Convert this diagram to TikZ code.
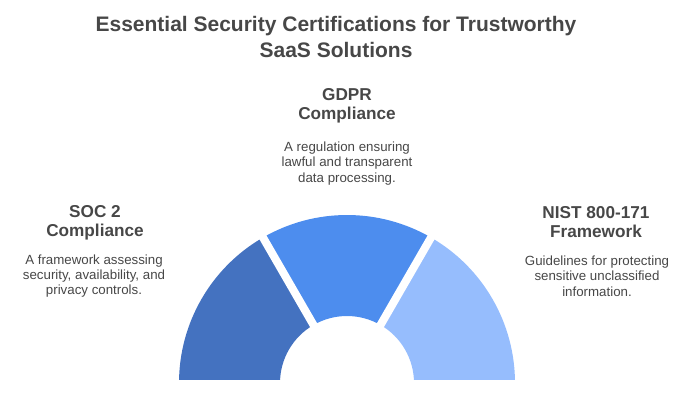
\documentclass[tikz,border=0pt]{standalone}
\usepackage{fontspec}
\setmainfont{Liberation Sans}
\usepackage{tikz}

\definecolor{socblue}{HTML}{4472C0}
\definecolor{gdprblue}{HTML}{4D8DEE}
\definecolor{nistblue}{HTML}{96BDFD}
\definecolor{ink}{HTML}{474747}

\begin{document}
\begin{tikzpicture}[x=1pt, y=1pt]
	\tikzstyle{every node} = [text=ink, align=center, inner sep=0pt]
	\tikzstyle{heading} = [font=\bfseries\fontsize{17.2}{19}\selectfont]
	\tikzstyle{blurb} = [font=\fontsize{13.3}{15.3}\selectfont]
	\tikzstyle{gap} = [white, line width=8pt]
	\useasboundingbox (0,0) rectangle (700,400);
	\node[font=\bfseries\fontsize{21}{25.5}\selectfont] (title) at (336, 363) {Essential Security Certifications for Trustworthy\\SaaS Solutions};
	% half ring, cut flat at the base
	\begin{scope}
		\clip (0,21) rectangle (700,400);
		\begin{scope}[shift={(347, 17)}]
			\fill[socblue] (180:168) arc (180:120:168) -- (120:67) arc (120:180:67) -- cycle;
			\fill[gdprblue] (120:168) arc (120:60:168) -- (60:67) arc (60:120:67) -- cycle;
			\fill[nistblue] (60:168) arc (60:0:168) -- (0:67) arc (0:60:67) -- cycle;
			\draw[gap] (0,0) -- (120:175);
			\draw[gap] (0,0) -- (60:175);
		\end{scope}
	\end{scope}
	\node[heading] (soc) at (95, 177.7) {SOC 2\\Compliance};
	\node[blurb] (socdesc) at (94, 124) {A framework assessing\\security, availability, and\\privacy controls.};
	\node[heading] (gdpr) at (347, 294.2) {GDPR\\Compliance};
	\node[blurb] (gdprdesc) at (347, 236.5) {A regulation ensuring\\lawful and transparent\\data processing.};
	\node[heading] (nist) at (596, 177.7) {NIST 800-171\\Framework};
	\node[blurb] (nistdesc) at (597, 124) {Guidelines for protecting\\sensitive unclassified\\information.};
\end{tikzpicture}
\end{document}
